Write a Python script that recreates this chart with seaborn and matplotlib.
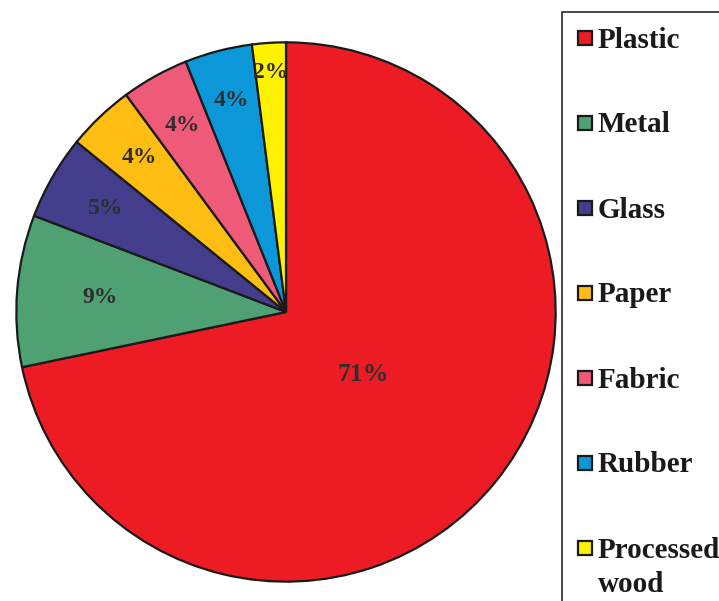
import matplotlib
matplotlib.use("Agg")
import matplotlib.pyplot as plt
from matplotlib.patches import Rectangle
import numpy as np
import seaborn as sns

# data
materials = ["Plastic", "Metal", "Glass", "Paper", "Fabric", "Rubber", "Processed\nwood"]
shares = [71, 9, 5, 4, 4, 4, 2]
colors = ["#ED1C24", "#4FA173", "#433D8B", "#FDBD12", "#EE5A78", "#0C97D9", "#FFF200"]
# how far out each percent label sits (fraction of radius)
label_r = [0.37, 0.69, 0.77, 0.79, 0.79, 0.81, 0.89]

sns.set_style("white")
plt.rcParams["font.family"] = ["Liberation Serif", "DejaVu Serif"]

W, H = 719, 601
fig = plt.figure(figsize=(W / 100, H / 100), dpi=100)

# pie axes: centre ~ (286, 312) px, radius ~ 271 px
cx, cy, r = 286, 312, 271
ax = fig.add_axes([(cx - r) / W, (H - cy - r) / H, 2 * r / W, 2 * r / H])
wedges, _ = ax.pie(shares, colors=colors, startangle=90, counterclock=False,
                   wedgeprops=dict(edgecolor="#1a1a1a", linewidth=1.6))
ax.set_xlim(-1.005, 1.005)
ax.set_ylim(-1.005, 1.005)
ax.set_aspect("equal")
ax.axis("off")

for w, v, d in zip(wedges, shares, label_r):
    mid = np.deg2rad((w.theta1 + w.theta2) / 2)
    ax.text(d * np.cos(mid), d * np.sin(mid), f"{v}%", ha="center", va="center",
            fontsize=18.5 if v > 50 else 17, fontweight="bold", color="#2e2e2e")

# legend box (left + top edges visible, runs off the figure)
fig.patches.append(Rectangle((562 / W, -0.1), 0.5, (H - 12) / H + 0.1, fill=False,
                             edgecolor="#3a3a3a", linewidth=1.3,
                             transform=fig.transFigure, clip_on=False))

row0, step = 38, 85
for i, (name, c) in enumerate(zip(materials, colors)):
    y = row0 + i * step
    fig.patches.append(Rectangle(((585 - 7) / W, (H - y - 7) / H), 14 / W, 14 / H,
                                 facecolor=c, edgecolor="#1a1a1a", linewidth=1.6,
                                 transform=fig.transFigure))
    lines = name.split("\n")
    for j, ln in enumerate(lines):
        fig.text(598 / W, (H - y - 9.5 - 35 * j) / H, ln, ha="left", va="baseline",
                 fontsize=21, fontweight="bold", color="#1a1a1a")

fig.savefig("out.png", dpi=100)
